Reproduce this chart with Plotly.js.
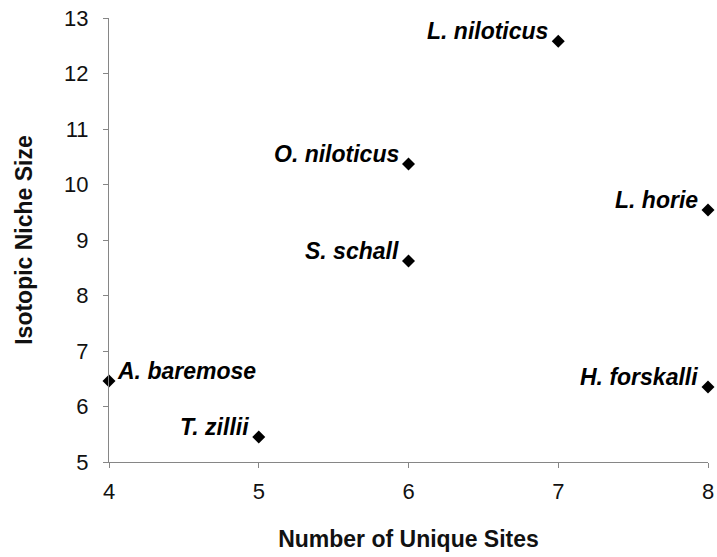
<!DOCTYPE html>
<html>
<head>
<meta charset="utf-8">
<script src="https://cdn.plot.ly/plotly-3.0.1.min.js"></script>
<style>html,body{margin:0;padding:0;background:#fff;}#chart{width:717px;height:557px;}</style>
</head>
<body>
<div id="chart"></div>
<script>
const species = ["A. baremose", "T. zillii", "O. niloticus", "S. schall", "L. niloticus", "L. horie", "H. forskalli"];
const uniqueSites = [4, 5, 6, 6, 7, 8, 8];
const nicheSize = [6.46, 5.45, 10.37, 8.62, 12.58, 9.54, 6.35];
const labelSide = ["right", "left", "left", "left", "left", "left", "left"];
const xTicks = [4, 5, 6, 7, 8];
const yTicks = [5, 6, 7, 8, 9, 10, 11, 12, 13];

const FONT = "Liberation Sans, Arial, sans-serif";

const trace = {
  type: "scatter",
  mode: "markers",
  x: uniqueSites,
  y: nicheSize,
  cliponaxis: false,
  marker: {symbol: "diamond", size: 10, color: "#000"},
  hoverinfo: "skip"
};

const annotations = species.map((s, i) => ({
  x: uniqueSites[i],
  y: nicheSize[i],
  text: "<b><i>" + s + "</i></b>",
  showarrow: false,
  xanchor: labelSide[i] === "right" ? "left" : "right",
  yanchor: "middle",
  xshift: labelSide[i] === "right" ? 6 : -8,
  yshift: 10,
  font: {family: FONT, size: 23, color: "#000"}
}));

const axisCommon = {
  showgrid: false,
  zeroline: false,
  showline: true,
  linecolor: "#868686",
  linewidth: 1,
  ticks: "outside",
  ticklen: 5,
  tickcolor: "#868686",
  tickfont: {family: FONT, size: 22, color: "#111"},
  automargin: false
};

const layout = {
  width: 717,
  height: 557,
  margin: {l: 109, r: 9, t: 18, b: 95},
  paper_bgcolor: "#fff",
  plot_bgcolor: "#fff",
  showlegend: false,
  xaxis: Object.assign({}, axisCommon, {
    range: [4, 8],
    tickmode: "array",
    tickvals: xTicks,
    ticktext: xTicks.map(String),
    ticklabelstandoff: 5,
    title: {text: "<b>Number of Unique Sites</b>", standoff: 27,
      font: {family: FONT, size: 23, color: "#111"}}
  }),
  yaxis: Object.assign({}, axisCommon, {
    range: [5, 13],
    tickmode: "array",
    tickvals: yTicks,
    ticktext: yTicks.map(String),
    ticklabelstandoff: 10,
    title: {text: "<b>Isotopic Niche Size</b>", standoff: 25,
      font: {family: FONT, size: 23, color: "#111"}}
  }),
  annotations: annotations
};

Plotly.newPlot("chart", [trace], layout, {staticPlot: true, displayModeBar: false});
</script>
</body>
</html>
